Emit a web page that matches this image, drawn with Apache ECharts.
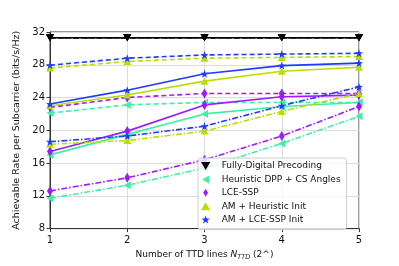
<!DOCTYPE html>
<html><head><meta charset="utf-8">
<script src="https://cdn.jsdelivr.net/npm/echarts@6/dist/echarts.min.js"></script>
<style>html,body{margin:0;padding:0;background:#fff}#c{width:399px;height:266px}</style>
</head><body><div id="c"></div>
<script>
const xValues = [1, 2, 3, 4, 5];
const yTicks = [8, 12, 16, 20, 24, 28, 32];
const methods = ['Fully-Digital Precoding', 'Heuristic DPP + CS Angles', 'LCE-SSP', 'AM + Heuristic Init', 'AM + LCE-SSP Init'];

const fdAll = [31.3, 31.3, 31.3, 31.3, 31.3];

const heurDashed = [22.1, 23.1, 23.4, 23.4, 23.4];
const heurSolid = [17.0, 19.5, 22.0, 22.9, 23.4];
const heurDashDot = [11.7, 13.3, 15.4, 18.4, 21.7];

const lceDashed = [22.8, 24.0, 24.5, 24.5, 24.5];
const lceSolid = [17.4, 19.9, 23.1, 24.1, 24.3];
const lceDashDot = [12.6, 14.2, 16.4, 19.3, 22.9];

const amHeurDashed = [27.6, 28.4, 28.8, 28.9, 29.0];
const amHeurSolid = [23.0, 24.3, 26.0, 27.2, 27.7];
const amHeurDashDot = [18.3, 18.75, 19.9, 22.3, 24.5];

const amLceDashed = [27.95, 28.8, 29.2, 29.3, 29.4];
const amLceSolid = [23.2, 24.9, 26.9, 27.9, 28.2];
const amLceDashDot = [18.6, 19.3, 20.5, 23.0, 25.3];

const colors = ['#000000', '#3cf0a8', '#9b1cff', '#b8de00', '#1f3cff'];
const STAR = 'path://M0,-10 L2.35,-3.24 L9.51,-3.09 L3.8,1.24 L5.88,8.09 L0,4 L-5.88,8.09 L-3.8,1.24 L-9.51,-3.09 L-2.35,-3.24 Z';
const TRI_DOWN = 'path://M-5,-4.3 L5,-4.3 L0,4.3 Z';
const TRI_LEFT = 'path://M-4.3,0 L4.3,-5 L4.3,5 Z';
const TRI_UP = 'path://M-5,4.3 L5,4.3 L0,-4.3 Z';
const THIN_DIAMOND = 'path://M0,-10 L6,0 L0,10 L-6,0 Z';
const symbols = [
  {symbol: TRI_DOWN, size: [8, 7]},
  {symbol: TRI_LEFT, size: [7, 8]},
  {symbol: THIN_DIAMOND, size: [6, 10]},
  {symbol: TRI_UP, size: [8, 7]},
  {symbol: STAR, size: 8}
];
const DASHED = [5, 3];
const DASHDOT = [6, 2, 1.5, 2];

const groups = [
  [fdAll, fdAll, fdAll],
  [heurDashed, heurSolid, heurDashDot],
  [lceDashed, lceSolid, lceDashDot],
  [amHeurDashed, amHeurSolid, amHeurDashDot],
  [amLceDashed, amLceSolid, amLceDashDot]
];
const styles = [DASHED, 'solid', DASHDOT];

const series = [];
groups.forEach((g, mi) => {
  g.forEach((vals, si) => {
    series.push({
      name: methods[mi],
      type: 'line',
      data: xValues.map((x, i) => [x, vals[i]]),
      symbol: symbols[mi].symbol,
      symbolSize: symbols[mi].size,
      symbolKeepAspect: false,
      showSymbol: true,
      lineStyle: {color: colors[mi], width: 1.6, type: styles[si]},
      itemStyle: {color: colors[mi]},
      animation: false,
      z: 2
    });
  });
});

const chart = echarts.init(document.getElementById('c'), null, {renderer: 'canvas'});
chart.setOption({
  animation: false,
  grid: {left: 50, right: 40, top: 32, bottom: 34, show: true, borderColor: '#333', borderWidth: 1},
  xAxis: {
    type: 'value', min: 1, max: 5, interval: 1,
    name: 'Number of TTD lines {i|N}{sub|TTD} (2^)',
    nameLocation: 'middle', nameGap: 17,
    nameTextStyle: {fontFamily: 'DejaVu Sans', fontSize: 9, color: '#111',
      rich: {i: {fontFamily: 'DejaVu Sans', fontSize: 9, fontStyle: 'italic', color: '#111'},
             sub: {fontFamily: 'DejaVu Sans', fontSize: 6.5, fontStyle: 'italic', color: '#111', padding: [5, 0, 0, 0]}}},
    axisLine: {show: true, lineStyle: {color: '#333'}},
    axisTick: {show: true, inside: false, length: 3.5, lineStyle: {color: '#333'}},
    axisLabel: {fontFamily: 'DejaVu Sans', fontSize: 10, color: '#111', margin: 7},
    splitLine: {show: true, lineStyle: {color: '#dcdcdc', width: 1}}
  },
  yAxis: {
    type: 'value', min: 8, max: 32, interval: 4,
    name: 'Achievable Rate per Subcarrier (bits/s/Hz)',
    nameLocation: 'middle', nameGap: 21,
    nameTextStyle: {fontFamily: 'DejaVu Sans', fontSize: 9.5, color: '#111'},
    axisLine: {show: true, lineStyle: {color: '#333'}},
    axisTick: {show: true, inside: false, length: 3.5, lineStyle: {color: '#333'}},
    axisLabel: {fontFamily: 'DejaVu Sans', fontSize: 10, color: '#111', margin: 5,
      formatter: v => yTicks.includes(v) ? String(v) : ''},
    splitLine: {show: true, lineStyle: {color: '#dcdcdc', width: 1}}
  },
  legend: {
    left: 198, top: 158, orient: 'vertical',
    padding: [3, 6, 5, 3],
    itemWidth: 22, itemHeight: 8, itemGap: 3.4,
    symbolKeepAspect: true,
    backgroundColor: 'rgba(255,255,255,0.8)',
    borderColor: '#cccccc', borderWidth: 1, borderRadius: 3,
    textStyle: {fontFamily: 'DejaVu Sans', fontSize: 9, color: '#111', lineHeight: 10},
    data: methods.map((m, i) => ({name: m, icon: symbols[i].symbol,
      itemStyle: {color: colors[i]}})),
    z: 10
  },
  series: series
});
</script></body></html>
